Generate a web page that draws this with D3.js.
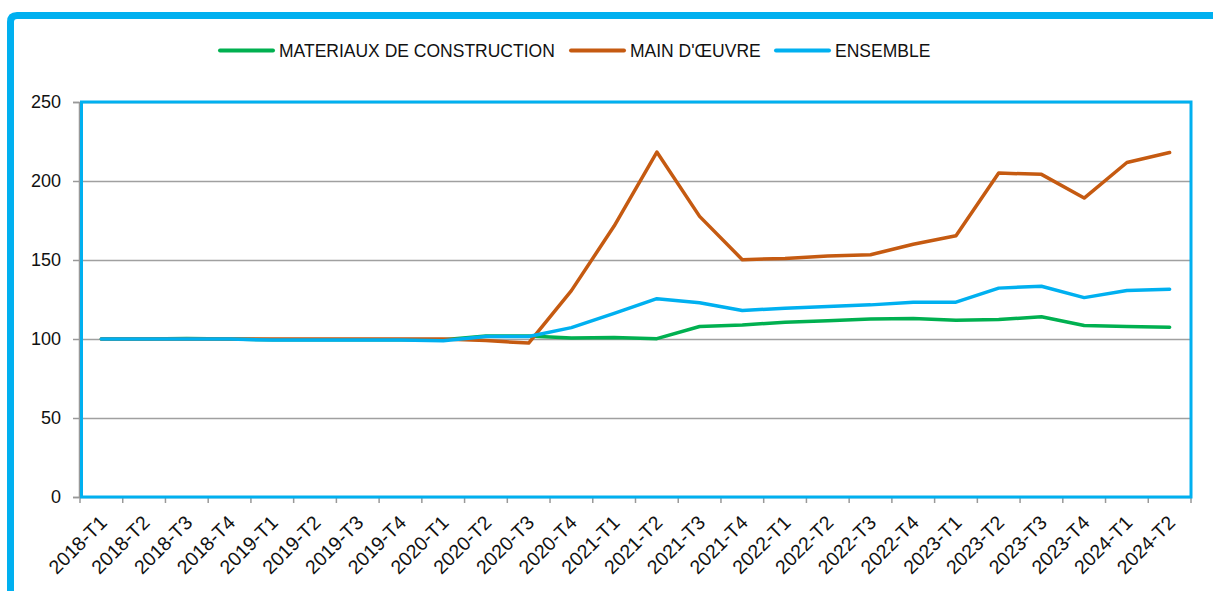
<html>
  <head>
    <title>Indices</title>
    <script src="https://d3js.org/d3.v7.min.js"></script>
    <style>
      body { margin: 0; background: #fff; }
      text { font-family: "Liberation Sans", Arial, sans-serif; fill: #111; }
    </style>
  </head>
  <body>
    <svg id="chart" width="1213" height="591"></svg>

    <script>
    // quarters on the x axis
    const quarters = ["2018-T1","2018-T2","2018-T3","2018-T4",
                      "2019-T1","2019-T2","2019-T3","2019-T4",
                      "2020-T1","2020-T2","2020-T3","2020-T4",
                      "2021-T1","2021-T2","2021-T3","2021-T4",
                      "2022-T1","2022-T2","2022-T3","2022-T4",
                      "2023-T1","2023-T2","2023-T3","2023-T4",
                      "2024-T1","2024-T2"];

    const materiaux = [100, 100, 100.3, 100, 99.5, 99.5, 99.5, 99.5, 99.5, 101.9, 101.9, 100.6, 100.9,
                       100.2, 107.9, 108.9, 110.6, 111.6, 112.7, 112.9, 111.8, 112.3, 114.1, 108.5, 107.9, 107.5];
    const mainOeuvre = [100, 100, 100, 100, 100, 100, 100, 100, 100, 99, 97.4, 130.6, 171.5,
                        218.3, 177.6, 150.2, 151, 152.5, 153.3, 160, 165.3, 205, 204.2, 189.2, 211.7, 218];
    const ensemble = [100, 100, 100, 100, 99.3, 99.3, 99.3, 99.3, 98.9, 101.6, 101.6, 107.2, 116.2,
                      125.5, 123, 118, 119.5, 120.5, 121.6, 123.3, 123.3, 132.2, 133.4, 126.2, 130.7, 131.5];

    const seriesNames = ["MATERIAUX DE CONSTRUCTION", "MAIN D'\u0152UVRE", "ENSEMBLE"];
    const seriesColors = ["#00B050", "#C55A11", "#00B0F0"];
    const yTicks = [0, 50, 100, 150, 200, 250];

    const svg = d3.select("svg#chart");
    const margins = {"top":102, "right":22, "bottom":94, "left":80};
    const width = +svg.attr("width");
    const height = +svg.attr("height");
    const chartWidth = width - margins.left - margins.right;
    const chartHeight = height - margins.top - margins.bottom;

    // outer frame (only top and left edges visible)
    svg.append("path")
       .attr("d", "M10.5,591 V22 Q10.5,15.5 17,15.5 H1213")
       .attr("fill", "none")
       .attr("stroke", "#00B0F0")
       .attr("stroke-width", 7);

    const xScale = d3.scaleBand().domain(quarters).range([0, chartWidth]);
    const yScale = d3.scaleLinear().domain([0, 250]).range([chartHeight, 0]);

    const chart = svg.append("g")
                     .attr("transform", "translate("+margins.left+","+margins.top+")");

    // gridlines
    chart.append("g")
         .attr("class", "y gridlines")
         .call(d3.axisLeft(yScale).tickValues(yTicks).tickSize(-chartWidth).tickFormat(""))
         .call(g => g.select(".domain").remove())
         .selectAll("line").attr("stroke", "#a0a0a0").attr("stroke-width", 1.3);

    // y axis
    let leftAxis = chart.append("g")
         .attr("class", "y axis")
         .attr("transform", "translate(-1,0)")
         .call(d3.axisLeft(yScale).tickValues(yTicks).tickSize(6).tickPadding(12));
    leftAxis.selectAll("line, path").attr("stroke", "#999").attr("stroke-width", 1.5);
    leftAxis.selectAll("text").style("font-size", "18px").attr("fill", "#111");

    // x axis ticks at band edges
    const edges = d3.range(quarters.length + 1).map(i => i * xScale.step());
    chart.append("g")
         .attr("class", "x ticks")
         .selectAll("line").data(edges).join("line")
         .attr("x1", d => d).attr("x2", d => d)
         .attr("y1", chartHeight).attr("y2", chartHeight + 6)
         .attr("stroke", "#999").attr("stroke-width", 1.5);

    chart.append("g")
         .attr("class", "x labels")
         .selectAll("text").data(quarters).join("text")
         .attr("text-anchor", "end")
         .attr("transform", d => "translate("+(xScale(d) + xScale.bandwidth()/2 + 2)+","+(chartHeight + 22)+") rotate(-45)")
         .attr("dy", "0.35em")
         .style("font-size", "19.5px")
         .text(d => d);

    // lines
    const lineGen = d3.line()
        .x((d, i) => xScale(quarters[i]) + xScale.bandwidth()/2)
        .y(d => yScale(d));

    [materiaux, mainOeuvre, ensemble].forEach((values, k) => {
      chart.append("path")
           .datum(values)
           .attr("fill", "none")
           .attr("stroke", seriesColors[k])
           .attr("stroke-width", 3.5)
           .attr("stroke-linejoin", "round")
           .attr("stroke-linecap", "round")
           .attr("d", lineGen);
    });

    // plot border
    chart.append("rect")
         .attr("x", 1.5).attr("y", 0)
         .attr("width", chartWidth - 1.5).attr("height", chartHeight)
         .attr("fill", "none")
         .attr("stroke", "#00B0F0")
         .attr("stroke-width", 3);

    // legend
    const legendX = [220, 571, 776];
    const legend = svg.append("g").attr("class", "legend");
    seriesNames.forEach((name, k) => {
      legend.append("line")
            .attr("x1", legendX[k]).attr("x2", legendX[k] + 53)
            .attr("y1", 50.5).attr("y2", 50.5)
            .attr("stroke", seriesColors[k])
            .attr("stroke-width", 4)
            .attr("stroke-linecap", "round");
      legend.append("text")
            .attr("x", legendX[k] + 59)
            .attr("y", 51)
            .attr("dy", "0.35em")
            .style("font-size", "17.5px")
            .text(name);
    });
    </script>
  </body>
</html>
